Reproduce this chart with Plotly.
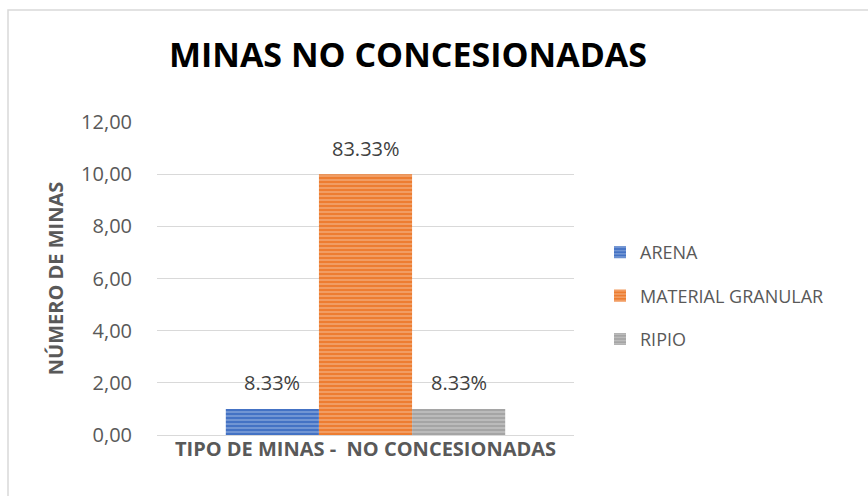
import plotly.graph_objects as go

categories = ["TIPO DE MINAS -  NO CONCESIONADAS"]
series_names = ["ARENA", "MATERIAL GRANULAR", "RIPIO"]
series_values = [1, 10, 1]
series_colors = ["#4472C4", "#ED7D31", "#A5A5A5"]
stripe_colors = ["#A9BFE6", "#F7C4A0", "#D6D6D6"]
y_ticks = [0, 2, 4, 6, 8, 10, 12]
y_tick_labels = ["0,00", "2,00", "4,00", "6,00", "8,00", "10,00", "12,00"]

FONT = "Open Sans, Calibri, sans-serif"
BAR_GAP = 0.33
total = sum(series_values)
n = len(series_names)
bar_w = (1 - BAR_GAP) / n

fig = go.Figure()
for i, (name, val, col, stripe) in enumerate(zip(series_names, series_values, series_colors, stripe_colors)):
    fig.add_trace(go.Bar(
        name=name,
        legendgroup=name,
        x=categories,
        y=[val],
        marker=dict(
            color=col,
            line=dict(width=0),
            pattern=dict(shape="-", fgcolor=stripe, bgcolor=col, size=4, solidity=0.45),
        ),
    ))
    # percentage label above each bar
    fig.add_annotation(
        x=(i - (n - 1) / 2) * bar_w, xref="x",
        y=val, yref="y",
        text=f"{val / total * 100:.2f}%",
        showarrow=False,
        yanchor="middle", yshift=26,
        font=dict(family=FONT, size=20, color="#404040"),
    )

L, R, T, B = 157, 294, 122, 61
W, H = 868, 496
pw, ph = W - L - R, H - T - B

def px_x(p):
    return (p - L) / pw

def px_y(p):
    return (H - B - p) / ph

fig.update_layout(
    width=W, height=H,
    margin=dict(l=L, r=R, t=T, b=B),
    paper_bgcolor="white",
    plot_bgcolor="white",
    barmode="group",
    bargap=BAR_GAP,
    bargroupgap=0,
    title=dict(
        text="<b>MINAS NO CONCESIONADAS</b>",
        font=dict(family=FONT, size=34, color="#000000"),
        x=408 / W, xanchor="center",
        y=1 - 55 / H, yanchor="middle",
    ),
    font=dict(family=FONT, color="#595959"),
    xaxis=dict(
        showgrid=False,
        showline=False,
        ticks="",
        tickfont=dict(size=20, color="#595959", family=FONT),
        tickprefix="<b>", ticksuffix="</b>",
    ),
    yaxis=dict(
        range=[0, 12],
        tickvals=y_ticks,
        ticktext=y_tick_labels,
        tickfont=dict(size=20, color="#595959"),
        gridcolor="#D9D9D9",
        gridwidth=1,
        zeroline=True,
        zerolinecolor="#D9D9D9",
        zerolinewidth=1,
        showline=False,
        ticks="",
        ticklabelstandoff=24,
        title=dict(text="<b>NÚMERO DE MINAS</b>", font=dict(size=20, color="#595959"), standoff=12),
    ),
    legend=dict(
        x=px_x(600), xanchor="left",
        y=px_y(234), yanchor="top",
        font=dict(size=18, color="#595959"),
        tracegroupgap=17,
        itemwidth=30,
        traceorder="grouped",
        bgcolor="rgba(0,0,0,0)",
    ),
    showlegend=True,
)

# outer chart border
fig.add_shape(
    type="rect", xref="paper", yref="paper",
    x0=px_x(8), x1=px_x(890), y0=px_y(510), y1=px_y(10),
    line=dict(color="#D9D9D9", width=1.5), fillcolor="rgba(0,0,0,0)", layer="below",
)

fig.write_html("out.html")
